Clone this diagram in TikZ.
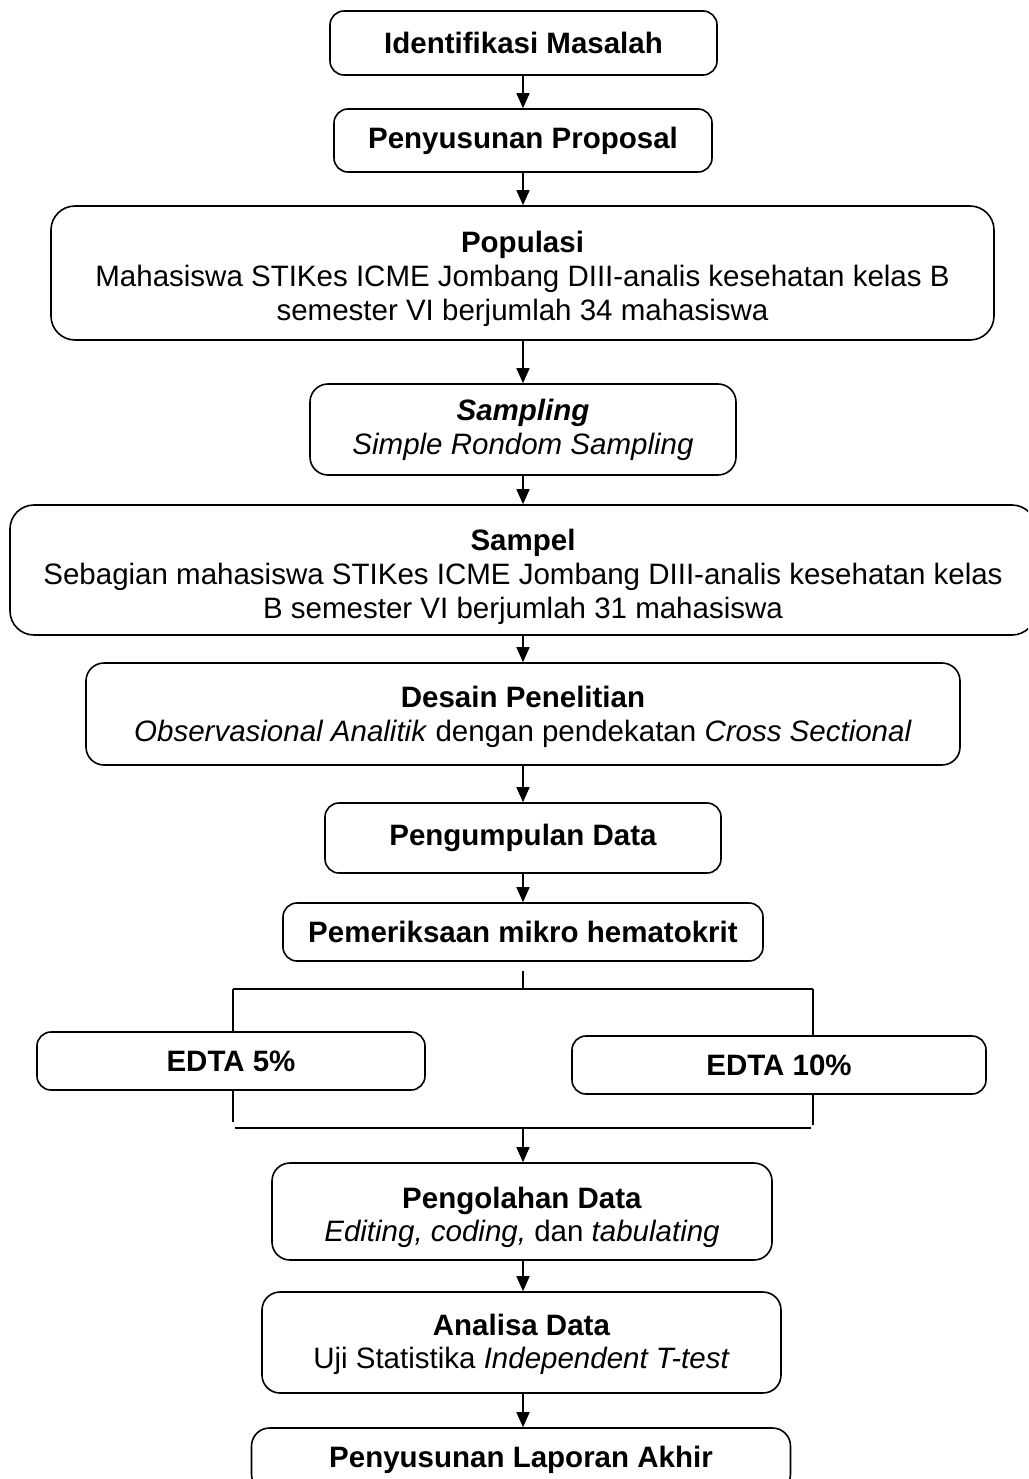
\documentclass[tikz,border=0pt]{standalone}
\usepackage{fontspec}
\setmainfont{Liberation Sans}
\usetikzlibrary{arrows.meta}
\newcommand{\topstrut}[1]{\rule{0pt}{#1}}
\begin{document}
\begin{tikzpicture}[x=1pt,y=-1pt,
  box/.style={draw, line width=1.6pt, rounded corners=14pt, inner sep=0pt, align=center,
    font=\fontsize{29.5}{33.8}\selectfont},
  conn/.style={line width=1.4pt},
  arr/.style={line width=1.4pt, -{Triangle[width=13pt,length=15pt]}}]
\clip (0,0) rectangle (1028,1479);
\fill[white] (0,0) rectangle (1028,1479);
\node[box, minimum width=387pt, minimum height=64pt] (A) at (523.5,43) {\textbf{Identifikasi Masalah}};
\node[box, minimum width=378pt, minimum height=63pt] (B) at (523,140.5) {\textbf{Penyusunan Proposal}};
\node[box, rounded corners=24pt, minimum width=943pt, minimum height=134pt] (C) at (522.5,273) {\topstrut{33pt}\textbf{Populasi}\\Mahasiswa STIKes ICME Jombang DIII-analis kesehatan kelas B\\semester VI berjumlah 34 mahasiswa};
\node[box, rounded corners=18pt, minimum width=426pt, minimum height=91pt] (D) at (523,429.5) {\textbf{\textit{Sampling}}\\\textit{Simple Rondom Sampling}};
\node[box, rounded corners=24pt, minimum width=1026pt, minimum height=130pt] (E) at (523,570) {\topstrut{35pt}\textbf{Sampel}\\Sebagian mahasiswa STIKes ICME Jombang DIII-analis kesehatan kelas\\B semester VI berjumlah 31 mahasiswa};
\node[box, rounded corners=18pt, minimum width=874pt, minimum height=102pt] (F) at (523,714) {\topstrut{27pt}\textbf{Desain Penelitian}\\\textit{Observasional Analitik} dengan pendekatan \textit{Cross Sectional}};
\node[box, minimum width=396pt, minimum height=70pt] (G) at (523,838) {\textbf{Pengumpulan Data}};
\node[box, minimum width=480pt, minimum height=58pt] (H) at (523,932) {\textbf{Pemeriksaan mikro hematokrit}};
\node[box, minimum width=388pt, minimum height=58pt] (I) at (231,1061) {\textbf{EDTA 5\%}};
\node[box, minimum width=414pt, minimum height=58pt] (J) at (779,1065) {\textbf{EDTA 10\%}};
\node[box, rounded corners=18pt, minimum width=500pt, minimum height=97pt] (K) at (522,1211.5) {\topstrut{33pt}\textbf{Pengolahan Data}\\\textit{Editing, coding,} dan \textit{tabulating}};
\node[box, rounded corners=18pt, minimum width=519pt, minimum height=101pt] (L) at (521.5,1342.5) {\topstrut{25pt}\textbf{Analisa Data}\\Uji Statistika \textit{Independent T-test}};
\node[box, rounded corners=18pt, minimum width=539pt, minimum height=64pt] (M) at (521,1460) {\textbf{Penyusunan Laporan Akhir}};
\draw[arr] (A.south -| 523,0) -- (B.north -| 523,0);
\draw[arr] (B.south -| 523,0) -- (C.north -| 523,0);
\draw[arr] (C.south -| 523,0) -- (D.north -| 523,0);
\draw[arr] (D.south -| 523,0) -- (E.north -| 523,0);
\draw[arr] (E.south -| 523,0) -- (F.north -| 523,0);
\draw[arr] (F.south -| 523,0) -- (G.north -| 523,0);
\draw[arr] (G.south -| 523,0) -- (H.north -| 523,0);
\coordinate (tm) at (523,989);
\coordinate (tl) at (233,989);
\coordinate (tr) at (813,989);
\coordinate (bl) at (233,1122);
\coordinate (br) at (813,1125);
\coordinate (hl) at (235,1128);
\coordinate (hr) at (811,1128);
\coordinate (bm) at (523,1128);
\draw[conn] ([yshift=-9pt]H.south) -- (tm);
\draw[conn] (tl) -- (tr);
\draw[conn] (tl) -- (tl |- I.north);
\draw[conn] (tr) -- (tr |- J.north);
\draw[conn] (bl |- I.south) -- (bl);
\draw[conn] (br |- J.south) -- (br);
\draw[conn] (hl) -- (hr);
\draw[arr] (bm) -- (K.north -| bm);
\draw[arr] (K.south -| 523,0) -- (L.north -| 523,0);
\draw[arr] (L.south -| 523,0) -- (M.north -| 523,0);
\end{tikzpicture}
\end{document}
